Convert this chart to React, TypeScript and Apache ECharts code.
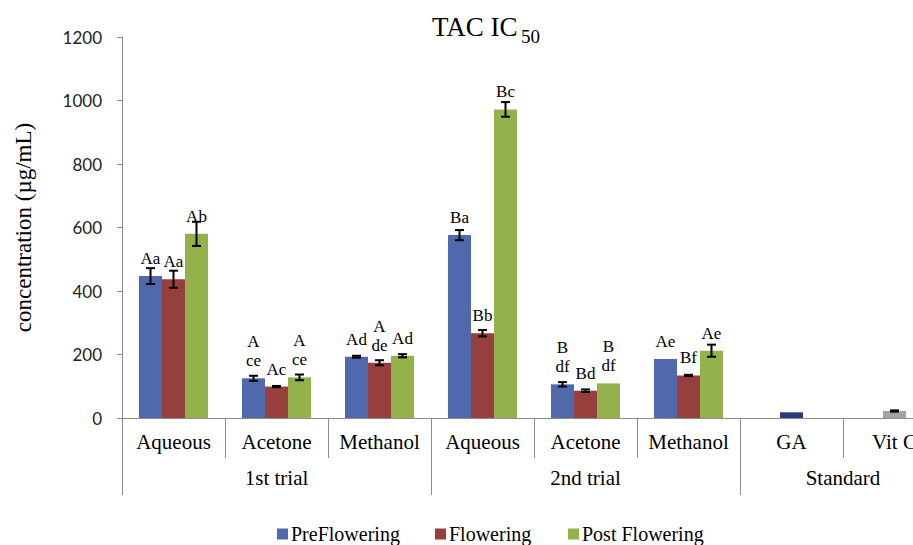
import React, { useEffect, useRef } from "react";
import * as echarts from "echarts";

const categories = ["Aqueous", "Acetone", "Methanol", "Aqueous", "Acetone", "Methanol", "GA", "Vit C"];
const groupLabels = ["1st trial", "2nd trial", "Standard"];
const groupLabelPos = [1.5, 4.5, 7];
const groupBounds = [0, 3, 6, 8];
const seriesNames = ["PreFlowering", "Flowering", "Post Flowering"];

const preValues = [447, 125, 193, 576, 106, 186, null, null];
const flowValues = [437, 99, 174, 267, 86, 134, null, null];
const postValues = [580, 128, 196, 972, 109, 212, null, null];
const stdValues = [null, null, null, null, null, null, 18, 22];

const preErr = [25, 8, 3, 16, 7, 0, 0, 0];
const flowErr = [27, 2, 8, 10, 4, 2, 0, 0];
const postErr = [38, 9, 5, 23, 0, 19, 0, 0];
const stdErr = [0, 0, 0, 0, 0, 0, 0, 2];

const preLabels = ["Aa", "A\nce", "Ad", "Ba", "B\ndf", "Ae", "", ""];
const flowLabels = ["Aa", "Ac", "A\nde", "Bb", "Bd", "Bf", "", ""];
const postLabels = ["Ab", "A\nce", "Ad", "Bc", "B\ndf", "Ae", "", ""];

const yTicks = { min: 0, max: 1200, interval: 200 };

const COLORS = ["#4F69AC", "#963F3D", "#93B24C"];
const STD_COLORS = ["#2C3B7C", "#A3A3A3"];
const SERIF = "'Liberation Serif', 'Times New Roman', serif";
const AXIS_GREY = "#8C8C8C";
const BAR_W = 23;

function errData(vals: (number | null)[], errs: number[]) {
  const out: number[][] = [];
  vals.forEach((v, i) => {
    if (v != null && errs[i] > 0) out.push([i, v, errs[i]]);
  });
  return out;
}

function errSeries(data: number[][], offset: number) {
  return {
    type: "custom",
    xAxisIndex: 0,
    yAxisIndex: 0,
    z: 5,
    silent: true,
    clip: false,
    data,
    encode: { x: 0, y: 1 },
    renderItem: (params: any, api: any) => {
      const x = api.value(0);
      const y = api.value(1);
      const e = api.value(2);
      const top = api.coord([x, y + e]);
      const bot = api.coord([x, y - e]);
      const cx = top[0] + offset;
      const st = { stroke: "#000", lineWidth: 2 };
      return {
        type: "group",
        children: [
          { type: "line", shape: { x1: cx, y1: top[1], x2: cx, y2: bot[1] }, style: st },
          { type: "line", shape: { x1: cx - 4.5, y1: top[1], x2: cx + 4.5, y2: top[1] }, style: st },
          { type: "line", shape: { x1: cx - 4.5, y1: bot[1], x2: cx + 4.5, y2: bot[1] }, style: st },
        ],
      };
    },
  };
}

function barSeries(name: string, vals: (number | null)[], labels: string[], color: string, stack?: string) {
  return {
    name,
    type: "bar",
    xAxisIndex: 0,
    yAxisIndex: 0,
    stack,
    barWidth: BAR_W,
    barGap: "0%",
    itemStyle: { color },
    data: vals.map((v, i) => ({
      value: v,
      label: { show: !!labels[i], formatter: labels[i] },
    })),
    label: {
      position: "top",
      distance: 8,
      fontFamily: SERIF,
      fontSize: 17,
      lineHeight: 19,
      color: "#000",
      align: "center",
    },
  };
}

export default function App() {
  const ref = useRef<HTMLDivElement>(null);
  useEffect(() => {
    if (!ref.current) return;
    const chart = echarts.init(ref.current, null, { renderer: "svg" });
    const option: any = {
      animation: false,
      backgroundColor: "#fff",
      grid: { left: 122, top: 37, bottom: 127, right: 0, containLabel: false },
      graphic: [
        { type: "text", left: 432, top: 13, style: { text: "TAC IC", font: `27px ${SERIF}`, fill: "#000" } },
        { type: "text", left: 521, top: 27, style: { text: "50", font: `19px ${SERIF}`, fill: "#000" } },
      ],
      legend: seriesNames.map((n, i) => ({
        data: [n],
        left: [272, 430, 563][i],
        top: 519,
        icon: "rect",
        itemWidth: 11,
        itemHeight: 11,
        itemGap: 4,
        textStyle: { fontFamily: SERIF, fontSize: 20, color: "#000", padding: [0, 0, 0, -2] },
        selectedMode: false,
      })),
      xAxis: [
        {
          type: "category",
          data: categories,
          position: "bottom",
          axisLine: { show: true, lineStyle: { color: AXIS_GREY, width: 1 } },
          axisTick: { show: true, interval: 0, length: 40, lineStyle: { color: AXIS_GREY } },
          axisLabel: { interval: 0, margin: 13, fontFamily: SERIF, fontSize: 21, color: "#000" },
          splitLine: { show: false },
        },
        {
          type: "value",
          min: 0,
          max: 8,
          position: "bottom",
          axisLine: { show: false },
          axisTick: { show: true, customValues: groupBounds, length: 77, lineStyle: { color: AXIS_GREY } },
          axisLabel: {
            customValues: groupLabelPos,
            margin: 49,
            fontFamily: SERIF,
            fontSize: 21,
            color: "#000",
            formatter: (v: number) => {
              const k = groupLabelPos.indexOf(v);
              return k >= 0 ? groupLabels[k] : "";
            },
          },
          splitLine: { show: false },
        },
      ],
      yAxis: {
        type: "value",
        min: yTicks.min,
        max: yTicks.max,
        interval: yTicks.interval,
        name: "concentration (µg/mL)",
        nameLocation: "middle",
        nameGap: 87,
        nameTextStyle: { fontFamily: SERIF, fontSize: 23, color: "#000" },
        axisLine: { show: true, lineStyle: { color: AXIS_GREY } },
        axisTick: { show: true, length: 5, lineStyle: { color: AXIS_GREY } },
        axisLabel: {
          margin: 20,
          fontFamily: "Lato, 'Open Sans', sans-serif",
          fontSize: 17,
          color: "#222",
          formatter: (v: number) => String(v),
        },
        splitLine: { show: false },
      },
      series: [
        barSeries(seriesNames[0], preValues, preLabels, COLORS[0]),
        barSeries(seriesNames[1], flowValues, flowLabels, COLORS[1], "mid"),
        {
          name: "Standard",
          type: "bar",
          stack: "mid",
          barWidth: BAR_W,
          barGap: "0%",
          data: stdValues.map((v, i) => ({
            value: v,
            itemStyle: { color: i === 6 ? STD_COLORS[0] : STD_COLORS[1] },
          })),
        },
        barSeries(seriesNames[2], postValues, postLabels, COLORS[2]),
        errSeries(errData(preValues, preErr), -BAR_W),
        errSeries(errData(flowValues, flowErr), 0),
        errSeries(errData(stdValues, stdErr), 0),
        errSeries(errData(postValues, postErr), BAR_W),
      ],
    };
    chart.setOption(option);
    return () => chart.dispose();
  }, []);
  return (
    <div style={{ width: 913, height: 545, position: "absolute", left: 0, top: 0, overflow: "hidden" }}>
      <div ref={ref} style={{ width: 946, height: 545 }} />
    </div>
  );
}
